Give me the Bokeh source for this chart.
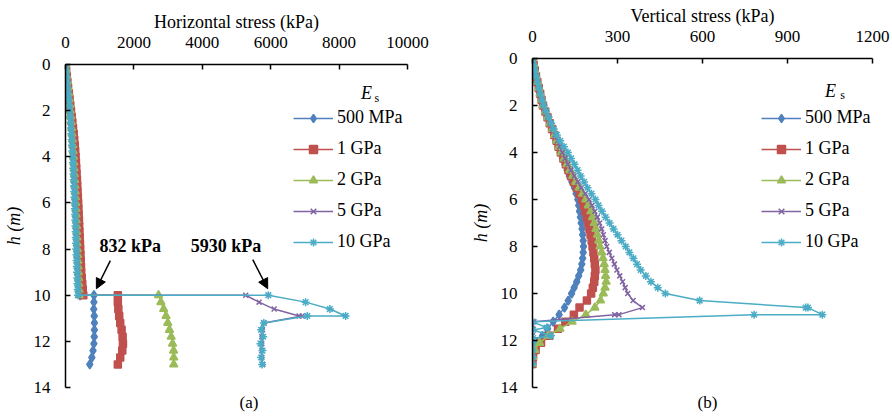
from bokeh.plotting import figure
from bokeh.models import (Range1d, Legend, LegendItem, Label, Arrow, NormalHead,
                          FixedTicker, Title)
from bokeh.embed import file_html
from bokeh.resources import INLINE

FONT = "Liberation Serif"

series_names = ["500 MPa", "1 GPa", "2 GPa", "5 GPa", "10 GPa"]
colors = ["#4F81BD", "#C0504D", "#9BBB59", "#8064A2", "#4BACC6"]
markers = ["diamond", "square", "triangle", "x", "asterisk"]
marker_sizes = [9, 7, 8, 7, 8]

# depth (m) for the part above the rock interface
depth_top = [0.0, 0.25, 0.5, 0.75, 1.0, 1.25, 1.5, 1.75, 2.0, 2.25, 2.5, 2.75,
             3.0, 3.25, 3.5, 3.75, 4.0, 4.25, 4.5, 4.75, 5.0, 5.25, 5.5, 5.75,
             6.0, 6.25, 6.5, 6.75, 7.0, 7.25, 7.5, 7.75, 8.0, 8.25, 8.5, 8.75,
             9.0, 9.25, 9.5, 9.75, 10.0]

# ---- (a) horizontal stress (kPa) ----
hs_top_500 = [0, 18, 35, 52, 70, 90, 110, 128, 145, 160, 175, 188, 200, 213, 225, 236, 247, 256, 265, 274,
              282, 290, 298, 306, 314, 321, 328, 335, 342, 349, 355, 362, 368, 375, 381, 388, 394, 401, 408, 416, 425]
hs_top_1g = [0, 19, 38, 56, 75, 98, 120, 140, 160, 180, 200, 220, 240, 255, 270, 283, 295, 305, 315, 325,
             335, 344, 352, 361, 370, 378, 385, 393, 400, 408, 415, 423, 430, 438, 445, 452, 460, 475, 490, 505, 520]
hs_top_2g = [0, 16, 33, 50, 66, 85, 105, 122, 138, 152, 166, 178, 190, 201, 212, 223, 234, 242, 250, 258,
             266, 274, 282, 290, 297, 304, 310, 317, 323, 329, 335, 341, 347, 354, 360, 367, 373, 380, 386, 394, 402]
hs_top_5g = [0, 16, 32, 48, 63, 82, 100, 115, 130, 144, 158, 169, 180, 190, 200, 211, 222, 230, 238, 246,
             253, 261, 268, 275, 282, 289, 295, 301, 307, 313, 318, 324, 330, 336, 342, 348, 354, 361, 367, 374, 382]
hs_top_10g = [0, 15, 30, 45, 60, 78, 95, 110, 125, 138, 150, 160, 170, 180, 190, 200, 210, 218, 225, 232,
              240, 248, 255, 262, 268, 274, 280, 286, 292, 298, 303, 308, 314, 320, 325, 331, 337, 343, 350, 357, 365]

hs_depth_bot = [10.0, 10.3, 10.6, 10.9, 11.2, 11.5, 11.8, 12.1, 12.4, 12.7, 13.0]
hs_depth_bot_dup = [10.0, 10.3, 10.6, 10.9, 10.9, 11.2, 11.5, 11.8, 12.1, 12.4, 12.7, 13.0]
hs_bot_500 = [832, 830, 825, 840, 845, 845, 840, 830, 805, 770, 710]
hs_bot_1g = [1530, 1530, 1545, 1570, 1600, 1640, 1670, 1680, 1660, 1600, 1530]
hs_bot_2g = [2720, 2790, 2870, 2940, 2990, 3040, 3090, 3130, 3160, 3165, 3165]
hs_bot_5g = [5270, 5660, 6100, 6830, 6920, 5800, 5760, 5740, 5740, 5740, 5740, 5770]
hs_bot_10g = [5930, 7020, 7730, 8190, 7070, 5800, 5720, 5780, 5700, 5760, 5720, 5750]

# ---- (b) vertical stress (kPa) ----
vs_top_500 = [0, 4, 8, 12, 17, 22, 27, 31, 36, 44, 52, 60, 68, 75, 83, 90, 98, 106, 114, 122,
              130, 139, 148, 154, 160, 163, 166, 169, 172, 175, 177, 179, 180, 179, 177, 174, 170, 163, 156, 147, 138]
vs_top_1g = [0, 4, 8, 12, 17, 22, 27, 32, 37, 45, 53, 61, 69, 77, 85, 92, 100, 109, 118, 127,
             136, 146, 157, 166, 175, 181, 186, 192, 197, 201, 205, 209, 212, 215, 218, 220, 222, 220, 218, 213, 207]
vs_top_2g = [0, 4, 8, 12, 17, 22, 27, 32, 37, 45, 53, 62, 70, 78, 86, 94, 102, 112, 122, 132,
             142, 153, 165, 177, 188, 197, 206, 212, 218, 224, 229, 234, 238, 244, 249, 253, 256, 258, 260, 256, 250]
vs_top_5g = [0, 4, 8, 12, 17, 22, 27, 32, 37, 45, 54, 62, 71, 80, 88, 96, 105, 115, 125, 136,
             147, 160, 172, 186, 200, 210, 220, 229, 237, 244, 250, 256, 262, 271, 280, 289, 298, 308, 318, 327, 336]
vs_top_10g = [0, 4, 8, 13, 18, 23, 28, 34, 40, 48, 57, 66, 75, 86, 98, 111, 125, 136, 148, 159,
              170, 182, 194, 208, 222, 233, 245, 258, 272, 286, 300, 314, 329, 342, 356, 369, 382, 400, 418, 442, 469]

vs_depth_bot = [10.3, 10.6, 10.9, 11.2, 11.5, 11.8, 12.1, 12.4, 12.7, 13.0]
vs_bot_500 = [126, 113, 94, 73, 53, 35, 18, 6, 1, 0]
vs_bot_1g = [192, 166, 146, 116, 90, 59, 30, 11, 2, 0]
vs_bot_2g = [240, 220, 188, 140, 97, 55, 25, 8, 1, 0]
vs_depth_bot_5g = [10.3, 10.6, 10.9, 10.9, 11.2, 11.5, 11.8, 12.1, 12.4, 12.7, 13.0]
vs_bot_5g = [355, 388, 305, 290, 5, 0, 0, 0, 0, 0, 0]
vs_depth_bot_10g = [10.3, 10.6, 10.6, 10.9, 10.9, 11.2, 11.45, 11.55, 11.8, 11.9, 12.1, 12.4, 12.7, 13.0]
vs_bot_10g = [590, 964, 972, 1023, 782, 0, 50, 2, 65, 2, 0, 0, 0, 0]

hs_ticks = [0, 2000, 4000, 6000, 8000, 10000]
vs_ticks = [0, 300, 600, 900, 1200]
h_ticks = [0, 2, 4, 6, 8, 10, 12, 14]

hs_series = [
    (depth_top + hs_depth_bot, hs_top_500 + hs_bot_500),
    (depth_top + hs_depth_bot, hs_top_1g + hs_bot_1g),
    (depth_top + hs_depth_bot, hs_top_2g + hs_bot_2g),
    (depth_top + hs_depth_bot_dup, hs_top_5g + hs_bot_5g),
    (depth_top + hs_depth_bot_dup, hs_top_10g + hs_bot_10g),
]
vs_series = [
    (depth_top + vs_depth_bot, vs_top_500 + vs_bot_500),
    (depth_top + vs_depth_bot, vs_top_1g + vs_bot_1g),
    (depth_top + vs_depth_bot, vs_top_2g + vs_bot_2g),
    (depth_top + vs_depth_bot_5g, vs_top_5g + vs_bot_5g),
    (depth_top + vs_depth_bot_10g, vs_top_10g + vs_bot_10g),
]


def make_fig(width, xmax, xticks, xlabel, b_left, b_right, b_top):
    p = figure(width=width, height=419, x_range=Range1d(0, xmax), y_range=Range1d(14, 0),
               x_axis_location="above", output_backend="svg", toolbar_location=None,
               min_border_left=b_left, min_border_right=b_right,
               min_border_top=b_top, min_border_bottom=32)
    p.outline_line_color = None
    p.grid.visible = False
    p.background_fill_color = "white"
    p.border_fill_color = "white"
    for ax in (p.xaxis[0], p.yaxis[0]):
        ax.axis_line_color = "black"
        ax.axis_line_width = 1.5
        ax.major_tick_line_color = "black"
        ax.major_tick_line_width = 1.5
        ax.major_tick_in = 5
        ax.major_tick_out = 0
        ax.minor_tick_line_color = None
        ax.major_label_text_font = FONT
        ax.major_label_text_font_size = "17px"
        ax.major_label_text_color = "black"
        ax.axis_label_text_font = FONT
        ax.axis_label_text_font_size = "18px"
        ax.axis_label_text_color = "black"
    p.xaxis.ticker = FixedTicker(ticks=xticks)
    p.yaxis.ticker = FixedTicker(ticks=h_ticks)
    p.xaxis.axis_label = xlabel
    p.xaxis.axis_label_text_font_style = "normal"
    p.xaxis.major_label_standoff = 17
    p.xaxis.axis_label_standoff = 2
    p.yaxis.axis_label = "h (m)"
    p.yaxis.axis_label_text_font = FONT
    p.yaxis.axis_label_text_font_style = "italic"
    p.yaxis.major_label_standoff = 15
    p.yaxis.axis_label_standoff = 7
    p.styles = {"float": "left"}
    return p


def add_series(p, series, leg_x, leg_y):
    items = []
    for (d, v), name, c, m, ms in zip(series, series_names, colors, markers, marker_sizes):
        lr = p.line(v, d, line_color=c, line_width=1.5)
        sr = p.scatter(v, d, marker=m, size=ms, fill_color=c, line_color=c, line_width=1.5)
        items.append(LegendItem(label=name, renderers=[lr, sr]))
    leg = Legend(items=items, location=(leg_x, leg_y), border_line_color=None,
                 background_fill_alpha=0, padding=0, margin=0, spacing=10,
                 glyph_width=40, glyph_height=20, label_height=20, label_standoff=4,
                 label_text_font=FONT, label_text_font_size="18px", label_text_color="black")
    p.add_layout(leg)


def lbl(p, x, y, text, size="18px", style="normal"):
    p.add_layout(Label(x=x, y=y, text=text, text_font=FONT, text_font_size=size,
                       text_font_style=style, text_align="center", text_baseline="middle",
                       text_color="black"))


def sub_title(p, text, offset):
    p.add_layout(Title(text=text, align="left", offset=offset, standoff=6,
                       text_font=FONT, text_font_size="17px", text_font_style="normal",
                       text_color="black"), "below")


# ---------- (a) ----------
pa = make_fig(446, 10000, hs_ticks, "Horizontal stress (kPa)", 64, 39, 64)
add_series(pa, hs_series, 228, 135)
lbl(pa, 8800, 1.22, "E", style="italic")
lbl(pa, 9100, 1.45, "s", size="12px")
lbl(pa, 1890, 7.86, "832 kPa", style="bold")
lbl(pa, 4690, 7.86, "5930 kPa", style="bold")
pa.add_layout(Arrow(end=NormalHead(size=10, fill_color="black", line_color="black"),
                    x_start=1311, y_start=8.5, x_end=903, y_end=9.72,
                    line_color="black", line_width=1.5))
pa.add_layout(Arrow(end=NormalHead(size=10, fill_color="black", line_color="black"),
                    x_start=5476, y_start=8.46, x_end=5913, y_end=9.72,
                    line_color="black", line_width=1.5))
sub_title(pa, "(a)", 174)

# ---------- (b) ----------
pb = make_fig(446, 1200, vs_ticks, "Vertical stress (kPa)", 86, 20, 58)
add_series(pb, vs_series, 229, 135)
lbl(pb, 1052, 1.4, "E", style="italic")
lbl(pb, 1094, 1.57, "s", size="12px")
sub_title(pb, "(b)", 165)

open("out.html", "w").write(file_html([pa, pb], INLINE))
